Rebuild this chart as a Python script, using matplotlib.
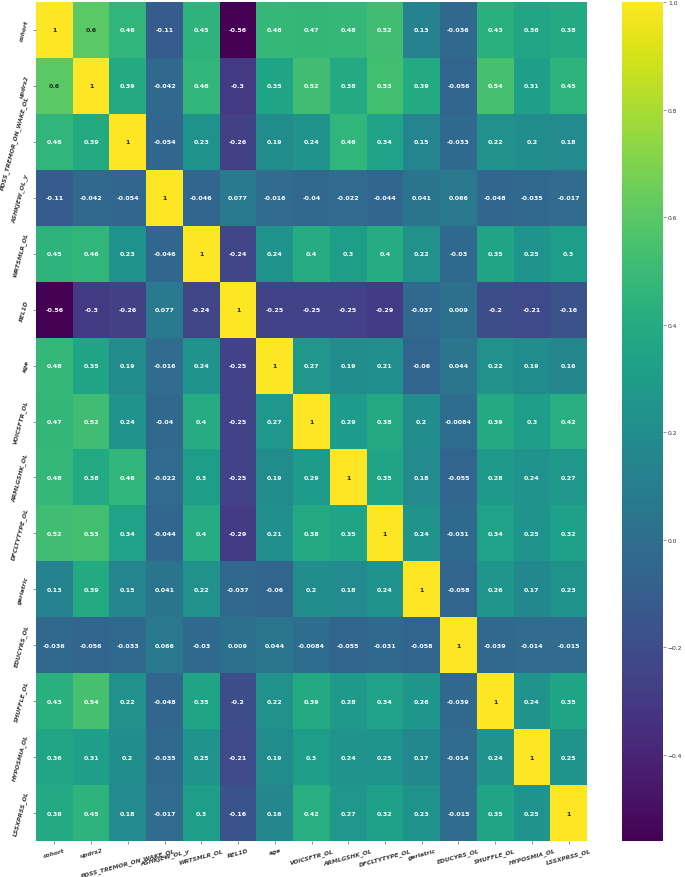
import matplotlib
matplotlib.use('Agg')
import matplotlib.pyplot as plt
import numpy as np
import pandas as pd
import seaborn as sns

labels = ['cohort', 'updrs2', 'PDSS_TREMOR_ON_WAKE_OL', 'ASHKJEW_OL_y', 'WRTSMLR_OL',
          'REL1D', 'age', 'VOICSFTR_OL', 'ARMLGSHK_OL', 'DFCLTYTYPE_OL', 'geriatric',
          'EDUCYRS_OL', 'SHUFFLE_OL', 'HYPOSMIA_OL', 'LSSXPRSS_OL']

cohort = [1, 0.6, 0.46, -0.11, 0.45, -0.56, 0.48, 0.47, 0.48, 0.52, 0.13, -0.036, 0.43, 0.36, 0.38]
updrs2 = [0.6, 1, 0.39, -0.042, 0.46, -0.3, 0.35, 0.52, 0.38, 0.53, 0.39, -0.056, 0.54, 0.31, 0.45]
pdss = [0.46, 0.39, 1, -0.054, 0.23, -0.26, 0.19, 0.24, 0.46, 0.34, 0.15, -0.033, 0.22, 0.2, 0.18]
ashkjew = [-0.11, -0.042, -0.054, 1, -0.046, 0.077, -0.016, -0.04, -0.022, -0.044, 0.041, 0.066, -0.048, -0.035, -0.017]
wrtsmlr = [0.45, 0.46, 0.23, -0.046, 1, -0.24, 0.24, 0.4, 0.3, 0.4, 0.22, -0.03, 0.35, 0.25, 0.3]
rel1d = [-0.56, -0.3, -0.26, 0.077, -0.24, 1, -0.25, -0.25, -0.25, -0.29, -0.037, 0.009, -0.2, -0.21, -0.16]
age = [0.48, 0.35, 0.19, -0.016, 0.24, -0.25, 1, 0.27, 0.19, 0.21, -0.06, 0.044, 0.22, 0.19, 0.16]
voicsftr = [0.47, 0.52, 0.24, -0.04, 0.4, -0.25, 0.27, 1, 0.29, 0.38, 0.2, -0.0084, 0.39, 0.3, 0.42]
armlgshk = [0.48, 0.38, 0.46, -0.022, 0.3, -0.25, 0.19, 0.29, 1, 0.35, 0.18, -0.055, 0.28, 0.24, 0.27]
dfcltytype = [0.52, 0.53, 0.34, -0.044, 0.4, -0.29, 0.21, 0.38, 0.35, 1, 0.24, -0.031, 0.34, 0.25, 0.32]
geriatric = [0.13, 0.39, 0.15, 0.041, 0.22, -0.037, -0.06, 0.2, 0.18, 0.24, 1, -0.058, 0.26, 0.17, 0.23]
educyrs = [-0.036, -0.056, -0.033, 0.066, -0.03, 0.009, 0.044, -0.0084, -0.055, -0.031, -0.058, 1, -0.039, -0.014, -0.015]
shuffle = [0.43, 0.54, 0.22, -0.048, 0.35, -0.2, 0.22, 0.39, 0.28, 0.34, 0.26, -0.039, 1, 0.24, 0.35]
hyposmia = [0.36, 0.31, 0.2, -0.035, 0.25, -0.21, 0.19, 0.3, 0.24, 0.25, 0.17, -0.014, 0.24, 1, 0.25]
lssxprss = [0.38, 0.45, 0.18, -0.017, 0.3, -0.16, 0.16, 0.42, 0.27, 0.32, 0.23, -0.015, 0.35, 0.25, 1]

rows = [cohort, updrs2, pdss, ashkjew, wrtsmlr, rel1d, age, voicsftr, armlgshk,
        dfcltytype, geriatric, educyrs, shuffle, hyposmia, lssxprss]
corr = pd.DataFrame(rows, index=labels, columns=labels)

fig = plt.figure(figsize=(6.85, 8.78), dpi=100)
ax = fig.add_axes([36 / 685, 1 - 842 / 878, 551 / 685, 839 / 878])
cax = fig.add_axes([622 / 685, 1 - 842 / 878, 41 / 685, 839 / 878])

sns.heatmap(corr, ax=ax, cbar_ax=cax, cmap='viridis', annot=True,
            annot_kws={'size': 4.6, 'weight': 'bold'})

ax.set_xticklabels(labels, rotation=15, ha='center', fontsize=4.3, style='italic',
                   weight='bold', color='#3a3a3a')
ax.set_yticklabels(labels, rotation=75, va='center', fontsize=4.3, style='italic',
                   weight='bold', color='#3a3a3a')
ax.tick_params(length=2.5, width=0.5, color='#666666', pad=2)
cax.tick_params(labelsize=4.3, length=2, width=0.5, pad=1.5,
                labelcolor='#333333', color='#666666')
cax.set_yticks([1.0, 0.8, 0.6, 0.4, 0.2, 0.0, -0.2, -0.4])

fig.savefig('out.png', dpi=100)
